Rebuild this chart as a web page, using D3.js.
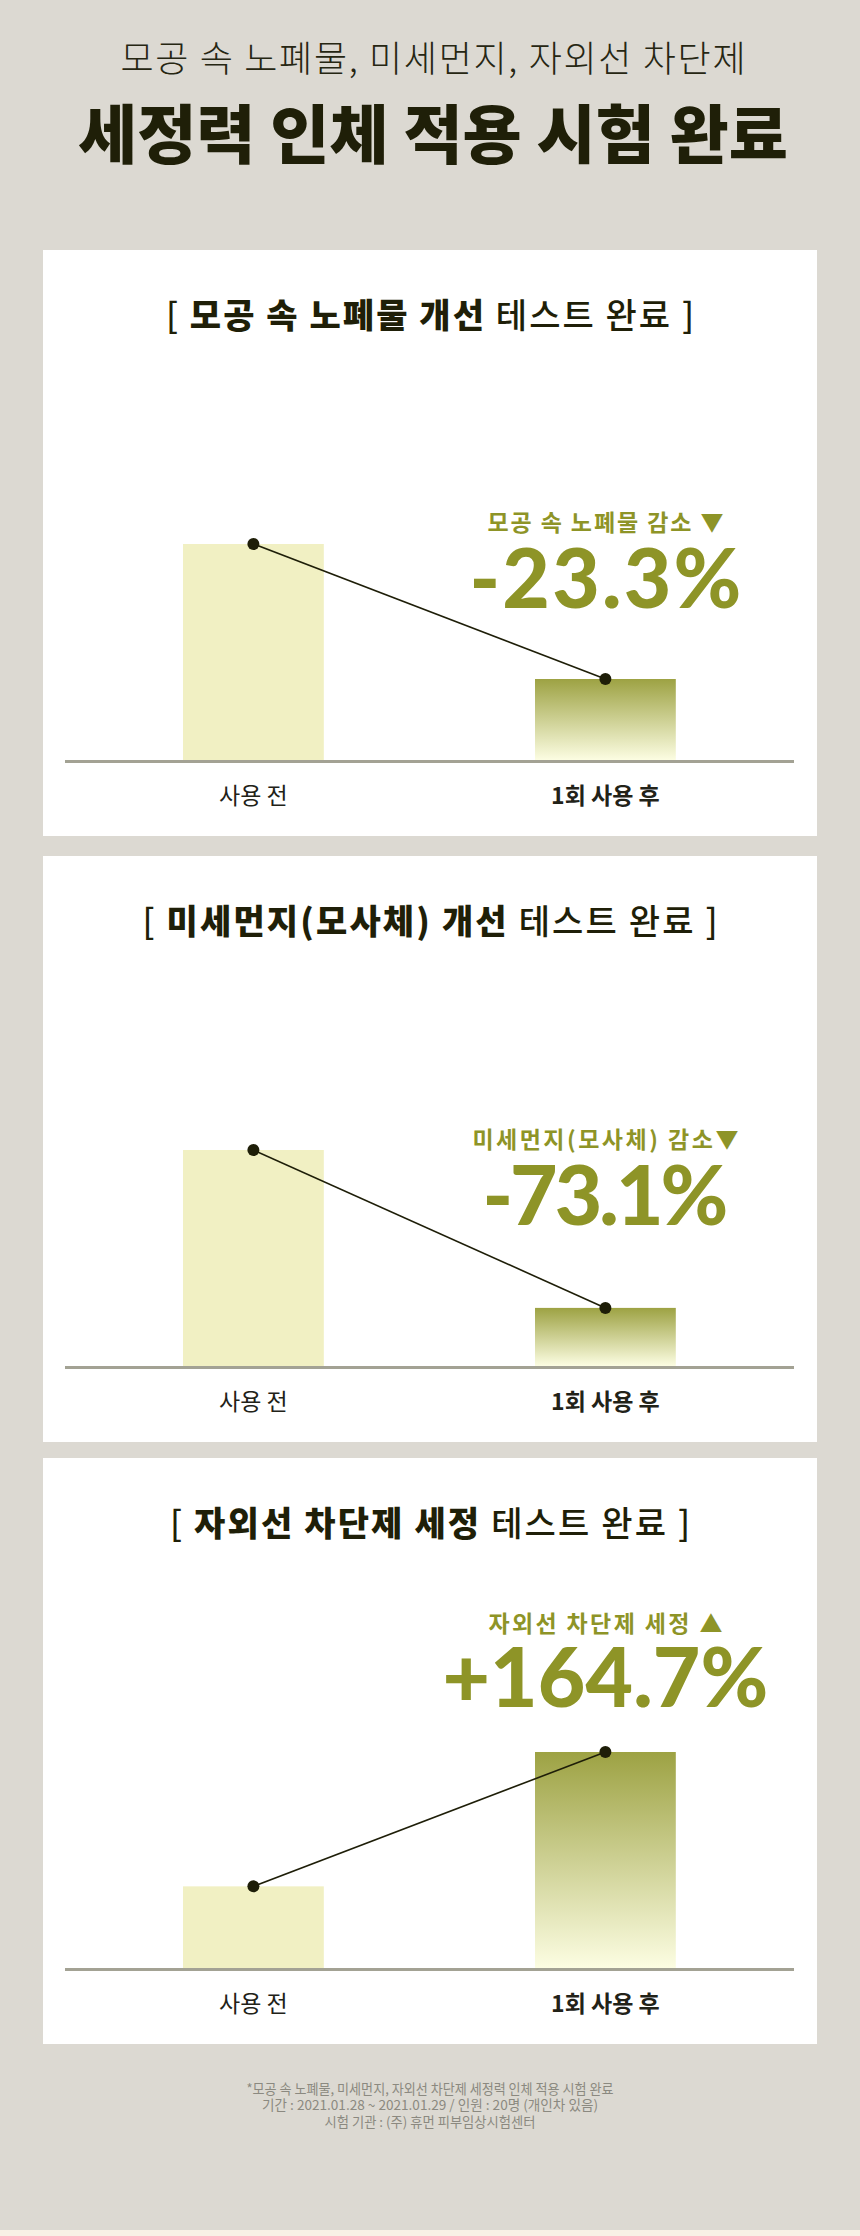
<!DOCTYPE html>
<html>
<head>
<meta charset="utf-8">
<script src="https://cdn.jsdelivr.net/npm/d3@7"></script>
<style>
  html, body { margin: 0; padding: 0; background: #dcd9d2; }
  svg { display: block; }
  text { font-family: "Noto Sans CJK KR", "Noto Sans", sans-serif; }
</style>
</head>
<body>
<div id="chart"></div>
<script>
// ---------------- data ----------------
const headerSubtitle = "모공 속 노폐물, 미세먼지, 자외선 차단제";
const headerTitle = "세정력 인체 적용 시험 완료";
const categories = ["사용 전", "1회 사용 후"];
const cardTitleBold = ["모공 속 노폐물 개선", "미세먼지(모사체) 개선", "자외선 차단제 세정"];
const cardTitleRegular = ["테스트 완료", "테스트 완료", "테스트 완료"];
const beforeValues = [100, 100, 37.8];
const afterValues = [37.5, 26.9, 100];
const changeLabels = ["모공 속 노폐물 감소 ▼", "미세먼지(모사체) 감소▼", "자외선 차단제 세정 ▲"];
const changeValues = ["-23.3%", "-73.1%", "+164.7%"];
const footerLines = [
  "*모공 속 노폐물, 미세먼지, 자외선 차단제 세정력 인체 적용 시험 완료",
  "기간 : 2021.01.28 ~ 2021.01.29 / 인원 : 20명 (개인차 있음)",
  "시험 기관 : (주) 휴먼 피부임상시험센터"
];

// ---------------- layout ----------------
const W = 860, H = 2236;
const cardTops = [250, 856, 1458];
const cardX = 43, cardW = 774, cardH = 586;
const titleWidths = [528, 575, 520];
const labelY = [281, 292, 174];      // baseline of small olive label (card relative)
const valueY = [358, 369, 249];      // baseline of large value (card relative)
const labelWidths = [236, 266, 234];
const valueWidths = [272, 246, 326];

const svg = d3.select("#chart").append("svg")
  .attr("width", W).attr("height", H);

const defs = svg.append("defs");
const grad = defs.append("linearGradient")
  .attr("id", "afterGrad").attr("x1", 0).attr("y1", 0).attr("x2", 0).attr("y2", 1);
grad.append("stop").attr("offset", "0%").attr("stop-color", "#9da243");
grad.append("stop").attr("offset", "100%").attr("stop-color", "#fcfde2");

svg.append("rect").attr("width", W).attr("height", H).attr("fill", "#dcd9d2");
svg.append("rect").attr("y", 2230).attr("width", W).attr("height", 6).attr("fill", "#f8f1e5");

// header
svg.append("text")
  .attr("x", 433).attr("y", 72)
  .attr("text-anchor", "middle")
  .attr("font-size", 36).attr("font-weight", 300)
  .attr("fill", "#262612")
  .attr("textLength", 625).attr("lengthAdjust", "spacing")
  .text(headerSubtitle);

svg.append("text")
  .attr("x", 433).attr("y", 158)
  .attr("text-anchor", "middle")
  .attr("font-size", 64).attr("font-weight", 900)
  .attr("fill", "#1f1f08")
  .attr("textLength", 710).attr("lengthAdjust", "spacingAndGlyphs")
  .text(headerTitle);

// scales shared by the cards
const x = d3.scaleBand().domain(categories)
  .range([77.4, 781.4]).paddingInner(0.6).paddingOuter(0.3);
const y = d3.scaleLinear().domain([0, 100]).range([510, 294]);

cardTops.forEach((top, i) => {
  const g = svg.append("g").attr("transform", `translate(0,${top})`);
  g.append("rect").attr("x", cardX).attr("y", 0)
    .attr("width", cardW).attr("height", cardH).attr("fill", "#ffffff");

  // card title
  const t = g.append("text")
    .attr("x", 430).attr("y", 78)
    .attr("text-anchor", "middle")
    .attr("font-size", 34)
    .attr("fill", "#1f1f08")
    .attr("textLength", titleWidths[i]).attr("lengthAdjust", "spacing");
  t.append("tspan").attr("font-weight", 500).text("[ ");
  t.append("tspan").attr("font-weight", 900).text(cardTitleBold[i] + " ");
  t.append("tspan").attr("font-weight", 500).text(cardTitleRegular[i] + " ]");

  const vals = [beforeValues[i], afterValues[i]];
  const data = categories.map((c, k) => ({ c, v: vals[k] }));

  // bars
  g.selectAll("rect.bar").data(data).enter().append("rect")
    .attr("class", "bar")
    .attr("x", d => x(d.c))
    .attr("width", x.bandwidth())
    .attr("y", d => y(d.v))
    .attr("height", d => y(0) - y(d.v))
    .attr("fill", (d, k) => k === 0 ? "#f1f0c3" : "url(#afterGrad)");

  // baseline
  g.append("line")
    .attr("x1", 65).attr("x2", 794)
    .attr("y1", y(0) + 1.5).attr("y2", y(0) + 1.5)
    .attr("stroke", "#a3a294").attr("stroke-width", 3);

  // axis labels
  const axis = d3.axisBottom(x).tickSize(0).tickPadding(0);
  const ag = g.append("g").attr("transform", `translate(0,${y(0)})`).call(axis);
  ag.select(".domain").remove();
  ag.selectAll(".tick text")
    .attr("y", 44)
    .attr("dy", 0)
    .attr("font-family", "'Noto Sans CJK KR', sans-serif")
    .attr("font-size", 23)
    .attr("font-weight", (d, k) => k === 0 ? 400 : 700)
    .attr("fill", "#222218");

  // connecting line and dots
  const line = d3.line().x(d => x(d.c) + x.bandwidth() / 2).y(d => y(d.v));
  g.append("path").datum(data)
    .attr("d", line).attr("fill", "none")
    .attr("stroke", "#1e1e08").attr("stroke-width", 1.6);
  g.selectAll("circle.dot").data(data).enter().append("circle")
    .attr("class", "dot")
    .attr("cx", d => x(d.c) + x.bandwidth() / 2)
    .attr("cy", d => y(d.v))
    .attr("r", 6).attr("fill", "#1e1e08");

  // annotation
  const cx = x(categories[1]) + x.bandwidth() / 2;
  g.append("text")
    .attr("x", cx).attr("y", labelY[i])
    .attr("text-anchor", "middle")
    .attr("font-size", 23).attr("font-weight", 700)
    .attr("fill", "#8e9427")
    .attr("textLength", labelWidths[i]).attr("lengthAdjust", "spacing")
    .text(changeLabels[i]);
  g.append("text")
    .attr("x", cx).attr("y", valueY[i])
    .attr("text-anchor", "middle")
    .attr("font-family", "Lato, 'Liberation Sans', sans-serif")
    .style("font-family", "Lato, 'Liberation Sans', sans-serif")
    .attr("font-size", 82).attr("font-weight", 900)
    .attr("fill", "#8e9427")
    .attr("textLength", valueWidths[i]).attr("lengthAdjust", "spacing")
    .text(changeValues[i]);
});

// footer
footerLines.forEach((s, k) => {
  svg.append("text")
    .attr("x", 430).attr("y", 2094 + k * 16.3)
    .attr("text-anchor", "middle")
    .attr("font-size", 13.5)
    .attr("fill", "#8b8980")
    .attr("textLength", [367, 336, 211][k]).attr("lengthAdjust", "spacingAndGlyphs")
    .text(s);
});
</script>
</body>
</html>
